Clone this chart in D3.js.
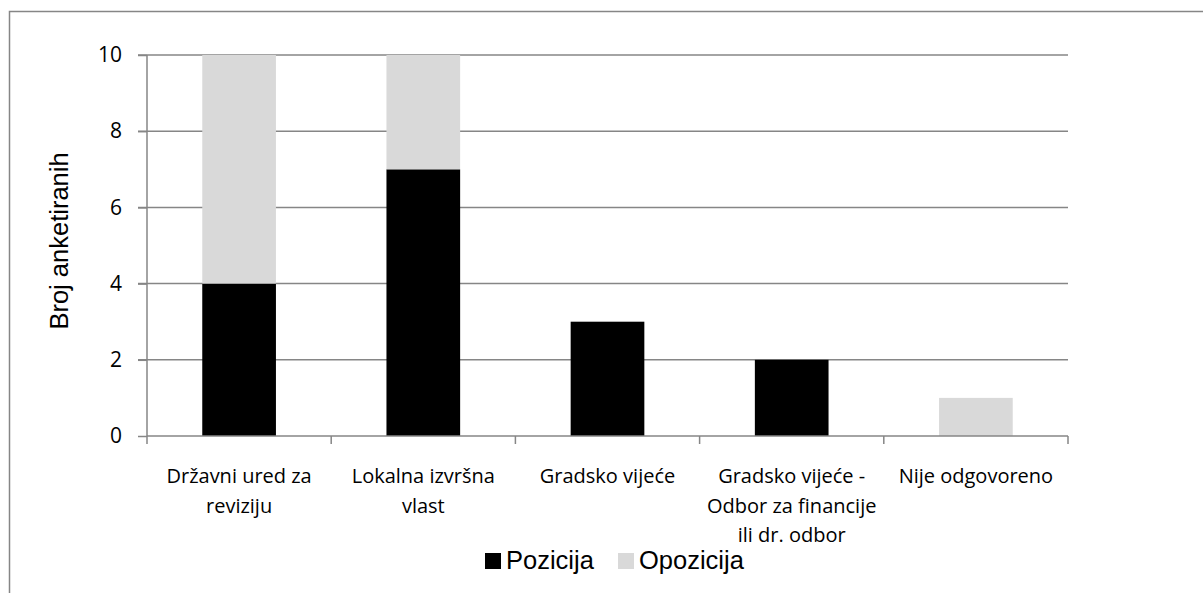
<!DOCTYPE html>
<html lang="hr">
<head>
<meta charset="utf-8">
<title>Broj anketiranih</title>
<script src="https://d3js.org/d3.v7.min.js"></script>
<style>
    body { margin: 0; background: #fff; }
</style>
</head>
<body>
<svg width="1203" height="593"></svg>
<script>
// data
var categories = [
    ["Državni ured za", "reviziju"],
    ["Lokalna izvršna", "vlast"],
    ["Gradsko vijeće"],
    ["Gradsko vijeće -", "Odbor za financije", "ili dr. odbor"],
    ["Nije odgovoreno"]
];
var pozicija = [4, 7, 3, 2, 0];
var opozicija = [6, 3, 0, 0, 1];
var seriesNames = ["Pozicija", "Opozicija"];
var seriesColors = ["#000000", "#d9d9d9"];
var yTicks = [0, 2, 4, 6, 8, 10];

(function () {
    var svg = d3.select("svg");
    var mLeft = 147, mRight = 1068, mTop = 55, mBottom = 436;
    var gridColor = "#868686";

    // outer chart border (only left and top edges show)
    svg.append("rect")
        .attr("x", 9.5).attr("y", 11.5)
        .attr("width", 1250).attr("height", 700)
        .attr("fill", "none").attr("stroke", gridColor).attr("stroke-width", 1.5);

    var x = d3.scaleBand().domain(d3.range(categories.length)).range([mLeft, mRight]).padding(0);
    var y = d3.scaleLinear().domain([0, 10]).range([mBottom, mTop]);

    // gridlines
    svg.append("g").selectAll("line")
        .data(yTicks.filter(function (d) { return d > 0; }))
        .enter().append("line")
        .attr("x1", mLeft - 9).attr("x2", mRight)
        .attr("y1", function (d) { return y(d); })
        .attr("y2", function (d) { return y(d); })
        .attr("stroke", gridColor).attr("stroke-width", 1.5);

    // stacked bars
    var rows = pozicija.map(function (v, i) { return [v, opozicija[i]]; });
    var layers = d3.stack().keys([0, 1]).value(function (d, k) { return d[k]; })(rows);
    var bw = x.bandwidth() * 0.4;

    svg.append("g").selectAll("g")
        .data(layers)
        .enter().append("g")
        .attr("fill", function (d, i) { return seriesColors[i]; })
        .selectAll("rect")
        .data(function (d) { return d; })
        .enter().append("rect")
        .attr("x", function (d, i) { return x(i) + (x.bandwidth() - bw) / 2; })
        .attr("width", bw)
        .attr("y", function (d) { return y(d[1]); })
        .attr("height", function (d) { return y(d[0]) - y(d[1]); });

    // y axis
    var yAxis = svg.append("g")
        .attr("transform", "translate(" + mLeft + ",0)")
        .call(d3.axisLeft(y).tickValues(yTicks).tickSize(9).tickPadding(16));
    yAxis.selectAll("text")
        .attr("fill", "#000")
        .style("font-family", "Open Sans, sans-serif")
        .style("font-size", "21px");
    yAxis.selectAll("line").attr("stroke", gridColor).attr("stroke-width", 1.5);
    yAxis.select(".domain").attr("stroke", gridColor).attr("stroke-width", 1.5)
        .attr("d", "M0," + mTop + "V" + mBottom);

    // x axis line and ticks at category boundaries
    var xa = svg.append("g");
    xa.append("line")
        .attr("x1", mLeft).attr("x2", mRight)
        .attr("y1", mBottom).attr("y2", mBottom)
        .attr("stroke", gridColor).attr("stroke-width", 1.5);
    xa.selectAll(".xt")
        .data(d3.range(categories.length + 1))
        .enter().append("line")
        .attr("class", "xt")
        .attr("x1", function (i) { return mLeft + i * x.step(); })
        .attr("x2", function (i) { return mLeft + i * x.step(); })
        .attr("y1", mBottom).attr("y2", mBottom + 8)
        .attr("stroke", gridColor).attr("stroke-width", 1.5);

    // category labels
    var lab = svg.append("g").selectAll("text")
        .data(categories)
        .enter().append("text")
        .attr("x", function (d, i) { return x(i) + x.bandwidth() / 2; })
        .attr("y", 483)
        .attr("text-anchor", "middle")
        .attr("fill", "#000")
        .style("font-family", "Open Sans, sans-serif")
        .style("font-size", "20px");
    lab.selectAll("tspan")
        .data(function (d) { return d; })
        .enter().append("tspan")
        .attr("x", function () { return d3.select(this.parentNode).attr("x"); })
        .attr("dy", function (d, j) { return j === 0 ? 0 : 29.5; })
        .text(function (d) { return d; });

    // y axis title
    svg.append("text")
        .attr("transform", "translate(68,241) rotate(-90)")
        .attr("text-anchor", "middle")
        .style("font-family", "Liberation Sans, Arial, sans-serif")
        .style("font-size", "25.5px")
        .text("Broj anketiranih");

    // legend
    var legX = [485, 618];
    var leg = svg.append("g").selectAll("g")
        .data(seriesNames)
        .enter().append("g")
        .attr("transform", function (d, i) { return "translate(" + legX[i] + ",553)"; });
    leg.append("rect")
        .attr("width", 16).attr("height", 16)
        .attr("fill", function (d, i) { return seriesColors[i]; });
    leg.append("text")
        .attr("x", 21).attr("y", 16)
        .style("font-family", "Liberation Sans, Arial, sans-serif")
        .style("font-size", "25.5px")
        .text(function (d) { return d; });
})();
</script>
</body>
</html>
